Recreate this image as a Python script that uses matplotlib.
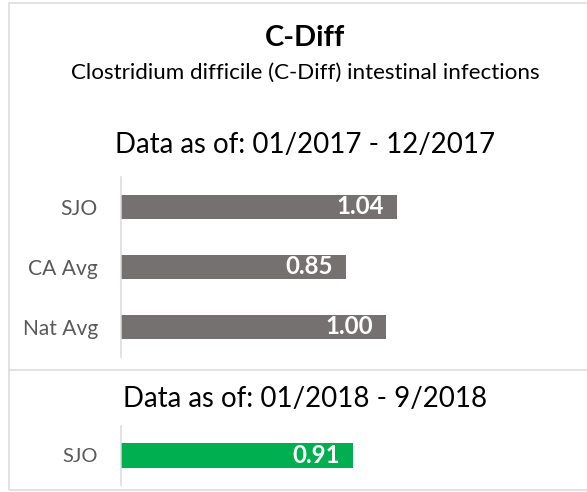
import matplotlib.pyplot as plt
from matplotlib.patches import Rectangle
from matplotlib.lines import Line2D

# data
title = 'C-Diff'
subtitle = 'Clostridium difficile (C-Diff) intestinal infections'
period_2017 = 'Data as of: 01/2017 - 12/2017'
period_2018 = 'Data as of: 01/2018 - 9/2018'
cats_2017 = ['SJO', 'CA Avg', 'Nat Avg']
vals_2017 = [1.04, 0.85, 1.00]
cats_2018 = ['SJO']
vals_2018 = [0.91]

W, H = 587, 492
plt.rcParams['font.family'] = ['Lato', 'DejaVu Sans']
fig = plt.figure(figsize=(W / 72, H / 72), dpi=72)
fig.patch.set_facecolor('white')


def fx(px):
    return px / W


def fy(py):
    return 1 - py / H


# box and divider
fig.patches.append(Rectangle((fx(9), fy(490)), fx(600) - fx(9), fy(3) - fy(490),
                             transform=fig.transFigure, fill=False,
                             edgecolor='#d9d9d9', lw=1.5))
fig.lines.append(Line2D([fx(9), 1], [fy(370), fy(370)], transform=fig.transFigure,
                        color='#d9d9d9', lw=1.5))

cx = fx(305)
fig.text(cx, fy(46), title, ha='center', va='baseline', fontsize=29, fontweight='bold')
fig.text(cx, fy(79), subtitle, ha='center', va='baseline', fontsize=22.4)
fig.text(cx, fy(153), period_2017, ha='center', va='baseline', fontsize=27.6)
fig.text(cx, fy(407), period_2018, ha='center', va='baseline', fontsize=27.6)


def bar_panel(rect, cats, vals, color, xmax, bar_h, lab_size, pad):
    ax = fig.add_axes(rect)
    y = list(range(len(cats)))
    ax.barh(y, vals, height=bar_h, color=color)
    ax.set_xlim(0, xmax)
    ax.set_ylim(len(cats) - 0.5, -0.5)
    ax.set_yticks(y)
    ax.set_yticklabels(cats, fontsize=lab_size, color='#595959')
    ax.tick_params(axis='y', length=0, pad=pad)
    ax.set_xticks([])
    for s in ['top', 'right', 'bottom']:
        ax.spines[s].set_visible(False)
    ax.spines['left'].set_color('#d9d9d9')
    ax.spines['left'].set_linewidth(1.5)
    for yi, v in zip(y, vals):
        ax.annotate(f'{v:.2f}', (v, yi), xytext=(-13, 0), textcoords='offset points',
                    ha='right', va='center', color='white', fontsize=24, fontweight='bold')
    return ax


# top panel: 265 px per unit, axis x=121, y 177..357
bar_panel([fx(121), fy(357), 1.6 * 265 / W, (357 - 177) / H],
          cats_2017, vals_2017, '#767171', 1.6, 0.4, 21, 23)
# bottom panel: 254.6 px per unit, y 426..485
bar_panel([fx(121), fy(485), 1.6 * 254.6 / W, (485 - 426) / H],
          cats_2018, vals_2018, '#00b050', 1.6, 0.41, 20, 23)

fig.savefig('out.png', dpi=72, facecolor='white')
